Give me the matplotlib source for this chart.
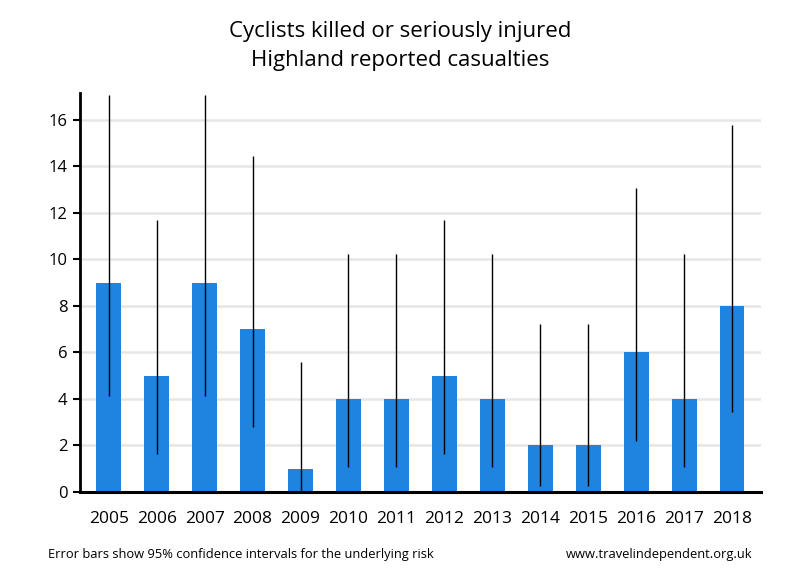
import matplotlib
matplotlib.use("Agg")
import matplotlib.pyplot as plt

# data
years = ["2005", "2006", "2007", "2008", "2009", "2010", "2011",
         "2012", "2013", "2014", "2015", "2016", "2017", "2018"]
casualties = [9, 5, 9, 7, 1, 4, 4, 5, 4, 2, 2, 6, 4, 8]
ci_lower = [4.12, 1.62, 4.12, 2.81, 0.03, 1.09, 1.09,
            1.62, 1.09, 0.24, 0.24, 2.20, 1.09, 3.45]
ci_upper = [17.08, 11.67, 17.08, 14.42, 5.57, 10.24, 10.24,
            11.67, 10.24, 7.22, 7.22, 13.06, 10.24, 15.76]

plt.rcParams['font.family'] = ['Open Sans', 'DejaVu Sans']

fig = plt.figure(figsize=(8, 5.8), dpi=100)
ax = fig.add_axes([0.1, 0.1517, 0.851, 0.688])

x = list(range(len(years)))
ax.bar(x, casualties, width=0.52, color='#1f83e0', zorder=2)

# error bars as plain vertical lines, no caps
ax.vlines(x, ci_lower, ci_upper, color='black', linewidth=1, zorder=3)

ax.set_xlim(-0.6, len(years) - 0.4)
ax.set_ylim(0, 17.15)
ax.set_yticks(range(0, 17, 2))
ax.set_xticks(x)
ax.set_xticklabels(years, fontsize=12.5)
ax.tick_params(axis='x', length=0, pad=14)
ax.tick_params(axis='y', length=5, width=1.5, labelsize=12, pad=4, direction='out')

ax.yaxis.grid(True, color='#e6e6e6', linewidth=1.8, zorder=0)
ax.set_axisbelow(True)

for side in ['top', 'right']:
    ax.spines[side].set_visible(False)
ax.spines['left'].set_linewidth(2)
ax.spines['bottom'].set_linewidth(2.2)
ax.spines['bottom'].set_zorder(4)

fig.text(0.5, 0.921, "Cyclists killed or seriously injured\nHighland reported casualties",
         ha='center', va='center', fontsize=16, linespacing=1.5)

fig.text(0.06, 0.044, "Error bars show 95% confidence intervals for the underlying risk",
         ha='left', va='center', fontsize=9.3)
fig.text(0.94, 0.044, "www.travelindependent.org.uk",
         ha='right', va='center', fontsize=9.3)

fig.savefig("out.png", dpi=100)
